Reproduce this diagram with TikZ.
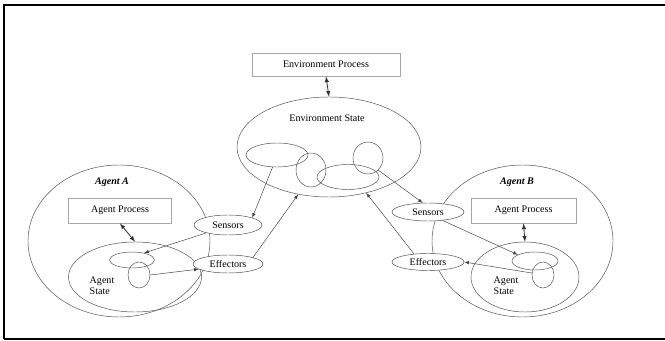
\documentclass[tikz,border=0pt]{standalone}
\usepackage{fontspec}
\setmainfont{Liberation Serif}
\usetikzlibrary{shapes.geometric,arrows}
\begin{document}
\begin{tikzpicture}[x=0.03cm,y=-0.03cm,
  every node/.style={font=\fontsize{8.6}{10}\selectfont},
  procbox/.style={draw=gray!70,line width=0.8pt,rectangle,inner sep=0pt},
  oval/.style={draw=black!70,ellipse,inner sep=0pt},
  link/.style={draw=black!75,-latex,shorten >=0pt},
  twoway/.style={draw=black!80,latex-latex,line width=0.7pt}]
\useasboundingbox (0,0) rectangle (665,341);

% frame
\draw [black,line width=1.2pt] (4,339) -- (4,5) -- (665,5);
\draw [black,line width=1.2pt] (4,339) -- (665,339);

% environment
\node [procbox,minimum width=4.44cm,minimum height=0.69cm] (envproc) at (326,64.5) {Environment Process};
\node [oval,minimum width=5.52cm,minimum height=3cm] (envstate) at (329,147) {};
\node (envtext) at (327,118) {Environment State};
\node [oval,minimum width=1.86cm,minimum height=0.72cm] (e1) at (277,155) {};
\node [oval,minimum width=0.9cm,minimum height=1.02cm] (e2) at (311,170) {};
\node [oval,minimum width=1.86cm,minimum height=0.75cm] (e3) at (348,177) {};
\node [oval,minimum width=0.9cm,minimum height=0.96cm] (e4) at (368,158) {};

% agent A
\node [oval,minimum width=5.46cm,minimum height=4.56cm] (agentA) at (119,241) {};
\node (labelA) at (112,182) {\textbf{\textit{Agent A}}};
\node [procbox,minimum width=3.09cm,minimum height=0.75cm] (procA) at (120,210.5) {Agent Process};
\node [oval,minimum width=3.99cm,minimum height=2.1cm] (stateA) at (135,277) {};
\node [oval,minimum width=1.35cm,minimum height=0.48cm] (sA1) at (132,260) {};
\node [oval,minimum width=0.66cm,minimum height=0.78cm] (sA2) at (139,275) {};
\node [align=left,inner sep=0pt] (textA) at (102,285.5) {Agent\\[-1pt]State};
\node [oval,fill=white,minimum width=2.04cm,minimum height=0.6cm] (sensA) at (228,225) {Sensors};
\node [oval,fill=white,minimum width=2.1cm,minimum height=0.54cm] (effA) at (228,264) {Effectors};

% agent B
\node [oval,minimum width=5.43cm,minimum height=4.56cm] (agentB) at (522.5,241) {};
\node (labelB) at (517,182) {\textbf{\textit{Agent B}}};
\node [procbox,minimum width=3.15cm,minimum height=0.75cm] (procB) at (523.5,210.5) {Agent Process};
\node [oval,minimum width=3.24cm,minimum height=2.1cm] (stateB) at (525,277) {};
\node [oval,minimum width=1.38cm,minimum height=0.54cm] (sB1) at (535,261) {};
\node [oval,minimum width=0.66cm,minimum height=0.78cm] (sB2) at (543,275) {};
\node [align=left,inner sep=0pt] (textB) at (506,285.5) {Agent\\[-1pt]State};
\node [oval,fill=white,minimum width=2.16cm,minimum height=0.54cm] (sensB) at (428,212) {Sensors};
\node [oval,fill=white,minimum width=2.16cm,minimum height=0.51cm] (effB) at (428,262) {Effectors};

% process <-> state
\draw [twoway] (envproc.south) -- (envstate.north);
\draw [twoway] (procA.south) -- (stateA.north);
\draw [twoway] (procB.south) -- (stateB.north);

% A side
\draw [link] (e1.250) -- (sensA.north east);
\draw [link] (sensA.200) -- (sA1.30);
\draw [link] (sA2.east) -- (effA.190);
\draw [link] (effA.north east) -- (envstate.237);

% B side
\draw [link] (e4.-50) -- (sensB.120);
\draw [link] (sensB.-30) -- (sB1.160);
\draw [link] (sB2.170) -- (effB.east);
\draw [link] (effB.150) -- (envstate.309);

\end{tikzpicture}
\end{document}
